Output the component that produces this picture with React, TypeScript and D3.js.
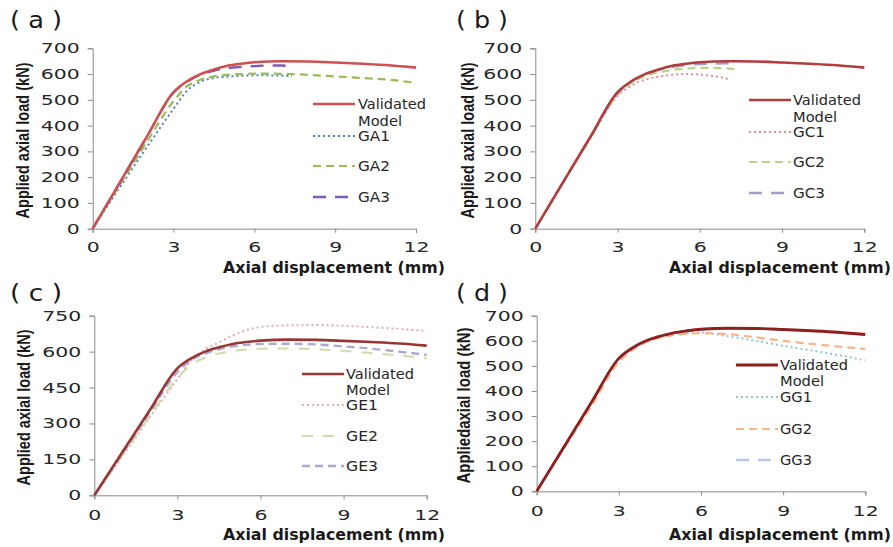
import React, { useRef, useEffect } from 'react';
import * as d3 from 'd3';

// axial displacement (mm) sample points
const dispFull = [0, 1, 2, 3, 3.5, 4, 4.5, 5, 5.5, 6, 7, 8, 9, 10, 11, 12];
const dispGA = [0, 1, 2, 3, 3.5, 4, 4.5, 5, 5.5, 6, 6.5, 7, 7.4];
const dispGC1 = [0, 1, 2, 3, 3.5, 4, 4.5, 5, 5.5, 6, 6.5, 7, 7.1];
const dispGC2 = [0, 1, 2, 3, 3.5, 4, 4.5, 5, 5.5, 6, 6.5, 7, 7.3];
const dispGC3 = [0, 1, 2, 3, 3.5, 4, 4.5, 5, 5.5, 6, 6.5, 7, 7.2];

// applied axial load (kN)
const validated = [0, 178, 355, 530, 572, 600, 618, 632, 640, 646, 650, 649, 645, 640, 634, 625];
const ga1 = [0, 160, 315, 465, 535, 570, 585, 590, 593, 595, 595, 594, 592];
const ga2 = [0, 170, 335, 495, 552, 578, 591, 597, 600, 602, 601, 597, 591, 585, 578, 566];
const ga3 = [0, 178, 355, 528, 570, 598, 613, 623, 628, 631, 633, 633, 630];
const gc1 = [0, 178, 350, 515, 555, 578, 590, 597, 600, 598, 592, 581, 575];
const gc2 = [0, 178, 352, 520, 565, 592, 607, 616, 621, 624, 624, 622, 618];
const gc3 = [0, 178, 353, 525, 570, 598, 617, 628, 635, 639, 641, 642, 642];
const ge1 = [0, 160, 325, 485, 562, 610, 638, 668, 690, 703, 710, 711, 708, 702, 695, 686];
const ge2 = [0, 165, 330, 490, 545, 575, 592, 603, 608, 612, 613, 610, 603, 594, 584, 572];
const ge3 = [0, 172, 345, 515, 565, 592, 610, 622, 628, 632, 633, 630, 622, 612, 600, 586];
const gg1 = [0, 178, 350, 525, 570, 597, 615, 626, 630, 632, 618, 600, 580, 562, 543, 522];
const gg2 = [0, 172, 340, 515, 563, 594, 612, 622, 628, 630, 626, 614, 600, 588, 577, 567];
const gg3 = [0, 178, 353, 530, 574, 601, 619, 632, 640, 646, 649, 648, 645, 640, 633, 623];

const xTicks = [0, 3, 6, 9, 12];
const yTicks700 = [0, 100, 200, 300, 400, 500, 600, 700];
const yTicks750 = [0, 150, 300, 450, 600, 750];

const zip = (xs: number[], ys: number[]) => xs.map((x, i) => ({ x, y: ys[i] }));

const panels = [
  {
    tag: '( a )', ox: 0, oy: 0, left: 92.7, right: 416, top: 48.3, bottom: 228.7, yMax: 700, yTicks: yTicks700,
    yLabel: 'Applied axial load  (kN)', yLabelX: 23, legX: [313, 355, 358], legY: [104, 121, 136, 166, 197],
    series: [
      { name: 'Validated', xs: dispFull, ys: validated, color: '#cc5050', dash: null, w: 2.6 },
      { name: 'GA1', xs: dispGA, ys: ga1, color: '#4f81bd', dash: '2,3', w: 2 },
      { name: 'GA2', xs: dispFull, ys: ga2, color: '#9bbb59', dash: '8,5', w: 2.2 },
      { name: 'GA3', xs: dispGA, ys: ga3, color: '#7d5cb8', dash: '13,9', w: 2.4 },
    ],
  },
  {
    tag: '( b )', ox: 446, oy: 0, left: 535.3, right: 864.3, top: 48.3, bottom: 228.7, yMax: 700, yTicks: yTicks700,
    yLabel: 'Applied axial load  (kN)', yLabelX: 468, legX: [749, 791, 793], legY: [100, 117, 132, 162, 193],
    series: [
      { name: 'Validated', xs: dispFull, ys: validated, color: '#b03c3c', dash: null, w: 2.6 },
      { name: 'GC1', xs: dispGC1, ys: gc1, color: '#df8f92', dash: '2,3', w: 2 },
      { name: 'GC2', xs: dispGC2, ys: gc2, color: '#bccf8c', dash: '8,5', w: 2.2 },
      { name: 'GC3', xs: dispGC3, ys: gc3, color: '#a49ec8', dash: '13,9', w: 2.4 },
    ],
  },
  {
    tag: '( c )', ox: 0, oy: 273, left: 94.3, right: 426.7, top: 315.7, bottom: 495.3, yMax: 750, yTicks: yTicks750,
    yLabel: 'Applied axial load  (kN)', yLabelX: 24, legX: [302, 344, 346], legY: [374, 390, 405, 436, 466],
    series: [
      { name: 'Validated', xs: dispFull, ys: validated, color: '#9a3535', dash: null, w: 2.6 },
      { name: 'GE1', xs: dispFull, ys: ge1, color: '#e6aeb0', dash: '2,3', w: 2 },
      { name: 'GE2', xs: dispFull, ys: ge2, color: '#cfdeb0', dash: '11,10', w: 2.2 },
      { name: 'GE3', xs: dispFull, ys: ge3, color: '#aea8cc', dash: '8,5', w: 2.4 },
    ],
  },
  {
    tag: '( d )', ox: 446, oy: 273, left: 536.7, right: 865.3, top: 315.7, bottom: 491.3, yMax: 700, yTicks: yTicks700,
    yLabel: 'Appliedaxial load (kN)', yLabelX: 464, legX: [736, 778, 780], legY: [365, 381, 397, 429, 460],
    series: [
      { name: 'Validated', xs: dispFull, ys: validated, color: '#8e1f1f', dash: null, w: 2.8 },
      { name: 'GG1', xs: dispFull, ys: gg1, color: '#93c4dc', dash: '2,3', w: 2 },
      { name: 'GG2', xs: dispFull, ys: gg2, color: '#f6b58a', dash: '8,5', w: 2.2 },
      { name: 'GG3', xs: dispFull, ys: gg3, color: '#b8c8e2', dash: '13,9', w: 2.4 },
    ],
  },
];

const FONT = "'DejaVu Sans', sans-serif";
const legendWidth = (t: string) => (t === 'Validated' ? 68 : t === 'Model' ? 44 : 32);

const App = () => {
  const svgRef = useRef<SVGSVGElement | null>(null);

  useEffect(() => {
    const svg = d3.select(svgRef.current);
    svg.selectAll('*').remove();

    panels.forEach(p => {
      const g = svg.append('g');
      const x = d3.scaleLinear().domain([0, 12]).range([p.left, p.right]);
      const y = d3.scaleLinear().domain([0, p.yMax]).range([p.bottom, p.top]);

      // y axis
      g.append('g')
        .attr('transform', `translate(${p.left},0)`)
        .call(d3.axisLeft(y).tickValues(p.yTicks).tickSize(5).tickPadding(8))
        .call(a => a.selectAll('path,line').attr('stroke', '#8a8a8a'))
        .call(a => a.selectAll('text')
          .attr('font-family', FONT).attr('font-size', 14).attr('fill', '#262626')
          .attr('textLength', (d: any) => String(d).length * 13)
          .attr('lengthAdjust', 'spacingAndGlyphs'));

      // x axis
      g.append('g')
        .attr('transform', `translate(0,${p.bottom})`)
        .call(d3.axisBottom(x).tickValues(xTicks).tickSize(4).tickPadding(p.oy ? 11 : 9))
        .call(a => a.selectAll('path,line').attr('stroke', '#8a8a8a'))
        .call(a => a.selectAll('text')
          .attr('font-family', FONT).attr('font-size', 14).attr('fill', '#262626')
          .attr('textLength', (d: any) => String(d).length * 13)
          .attr('lengthAdjust', 'spacingAndGlyphs'));

      const line = d3.line<{ x: number; y: number }>()
        .x(d => x(d.x))
        .y(d => y(d.y))
        .curve(d3.curveMonotoneX);

      // draw validated last so it sits on top
      [...p.series.slice(1), p.series[0]].forEach(s => {
        g.append('path')
          .datum(zip(s.xs, s.ys))
          .attr('fill', 'none')
          .attr('stroke', s.color)
          .attr('stroke-width', s.w)
          .attr('stroke-dasharray', s.dash)
          .attr('d', line);
      });

      // legend
      const [lx1, lx2, tx] = p.legX;
      const legText = (t: string, ly: number) =>
        g.append('text')
          .attr('x', tx).attr('y', ly).attr('dy', '0.36em')
          .attr('font-family', FONT).attr('font-size', 13.5).attr('fill', '#262626')
          .attr('textLength', legendWidth(t)).attr('lengthAdjust', 'spacingAndGlyphs')
          .text(t);
      p.series.forEach((s, i) => {
        const ly = p.legY[i === 0 ? 0 : i + 1];
        g.append('line')
          .attr('x1', lx1).attr('x2', lx2).attr('y1', ly).attr('y2', ly)
          .attr('stroke', s.color).attr('stroke-width', s.w)
          .attr('stroke-dasharray', s.dash);
        legText(s.name, ly);
      });
      legText('Model', p.legY[1]);

      // axis titles
      g.append('text')
        .attr('x', p.ox + 445).attr('y', p.oy ? 539.5 : 272.5)
        .attr('text-anchor', 'end')
        .attr('font-family', FONT).attr('font-weight', 'bold').attr('font-size', 15.5)
        .attr('fill', '#1a1a1a')
        .attr('textLength', 222).attr('lengthAdjust', 'spacingAndGlyphs')
        .text('Axial displacement (mm)');

      g.append('text')
        .attr('transform', `translate(${p.yLabelX},${(p.top + p.bottom) / 2 + 2}) rotate(-90)`)
        .attr('text-anchor', 'middle').attr('dy', '0.35em')
        .attr('font-family', "'Liberation Sans', sans-serif").attr('font-weight', 'bold').attr('font-size', 18)
        .attr('fill', '#1a1a1a')
        .attr('textLength', 156).attr('lengthAdjust', 'spacingAndGlyphs')
        .text(p.yLabel);

      // panel tag
      g.append('text')
        .attr('x', p.ox + 10).attr('y', p.oy + 28)
        .attr('font-family', FONT).attr('font-size', 23).attr('fill', '#1a1a1a')
        .attr('textLength', 52).attr('lengthAdjust', 'spacingAndGlyphs')
        .text(p.tag);
    });
  }, []);

  return (
    <svg
      ref={svgRef}
      width={893}
      height={547}
      style={{ position: 'absolute', left: 0, top: 0, background: '#fff', display: 'block' }}
    />
  );
};

export default App;
